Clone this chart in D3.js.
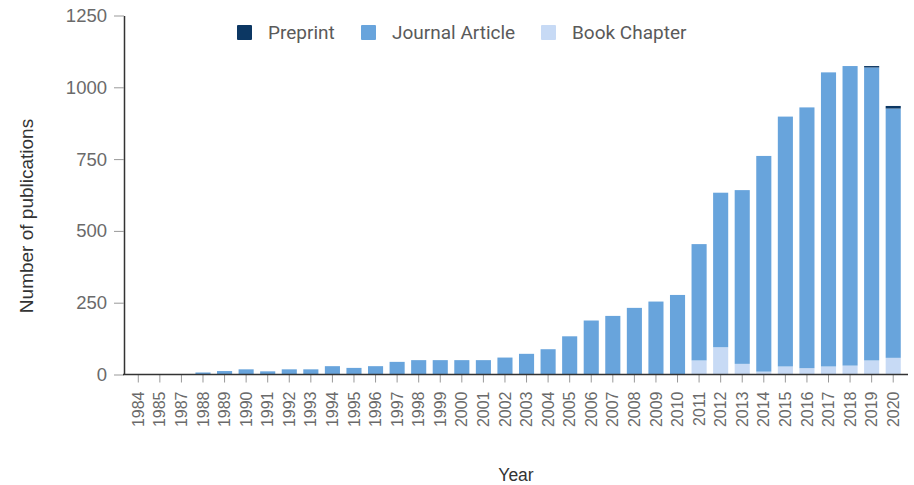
<!DOCTYPE html>
<html>
<head>
<meta charset="utf-8">
<script src="https://cdn.jsdelivr.net/npm/d3@7"></script>
<style>
  body { margin: 0; background: #fff; }
  svg { display: block; font-family: Roboto, "Noto Sans", sans-serif; }
</style>
</head>
<body>
<svg id="chart" width="914" height="485"></svg>
<script>
const years = ["1984", "1985", "1987", "1988", "1989", "1990", "1991", "1992", "1993",
  "1994", "1995", "1996", "1997", "1998", "1999", "2000", "2001", "2002", "2003",
  "2004", "2005", "2006", "2007", "2008", "2009", "2010", "2011", "2012", "2013",
  "2014", "2015", "2016", "2017", "2018", "2019", "2020"];

const bookChapter = [0, 0, 0, 0, 0, 0, 0, 0, 0,
  0, 0, 0, 0, 0, 0, 0, 0, 0, 0,
  0, 0, 0, 0, 0, 0, 0, 49, 95, 37,
  10, 28, 22, 28, 31, 49, 58];

const journalArticle = [0, 0, 1, 7, 12, 18, 11, 18, 18,
  29, 23, 29, 44, 50, 50, 50, 50, 59, 72,
  88, 133, 188, 204, 232, 254, 277, 405, 538, 605,
  751, 870, 908, 1024, 1043, 1020, 868];

const preprint = [0, 0, 0, 0, 0, 0, 0, 0, 0,
  0, 0, 0, 0, 0, 0, 0, 0, 0, 0,
  0, 0, 0, 0, 0, 0, 0, 0, 0, 0,
  0, 0, 0, 0, 0, 5, 9];

const yTicks = [0, 250, 500, 750, 1000, 1250];

const seriesKeys = ["bookChapter", "journalArticle", "preprint"];
const seriesLabels = { preprint: "Preprint", journalArticle: "Journal Article", bookChapter: "Book Chapter" };
const colors = { preprint: "#0c3763", journalArticle: "#68a4dc", bookChapter: "#c7daf5" };

const table = years.map((y, i) => ({
  year: y,
  bookChapter: bookChapter[i],
  journalArticle: journalArticle[i],
  preprint: preprint[i]
}));

const svg = d3.select("#chart");

const x = d3.scaleBand()
  .domain(years)
  .range([127.5, 904])
  .paddingInner(0.3)
  .paddingOuter(0.15);

const y = d3.scaleLinear().domain([0, 1250]).range([374.5, 15.5]);

const stacked = d3.stack().keys(seriesKeys)(table);

// bars
svg.append("g")
  .selectAll("g")
  .data(stacked)
  .enter()
  .append("g")
  .attr("fill", (d) => colors[d.key])
  .selectAll("rect")
  .data((d) => d)
  .enter()
  .append("rect")
  .attr("x", (d) => x(d.data.year))
  .attr("y", (d) => y(d[1]))
  .attr("width", x.bandwidth())
  .attr("height", (d) => y(d[0]) - y(d[1]));

// y axis
const yAxis = svg.append("g")
  .attr("transform", "translate(124,0)")
  .call(d3.axisLeft(y).tickValues(yTicks).tickFormat(d3.format("d"))
    .tickSize(10).tickPadding(7).tickSizeOuter(0));
yAxis.select(".domain").attr("stroke", "#333").attr("stroke-width", 1.5);
yAxis.selectAll(".tick line").attr("stroke", "#999");
yAxis.selectAll("text").style("font-size", "18.5px").attr("fill", "#6a6a6a");

// x axis
const xAxis = svg.append("g")
  .attr("transform", "translate(0,374.5)")
  .call(d3.axisBottom(x).tickSize(8).tickPadding(5));
xAxis.select(".domain").remove();
xAxis.selectAll(".tick line").attr("stroke", "#999");
xAxis.selectAll("text")
  .style("font-size", "16px")
  .attr("fill", "#6a6a6a")
  .attr("transform", "rotate(-90)")
  .attr("text-anchor", "end")
  .attr("x", -17)
  .attr("y", 0)
  .attr("dy", "0.35em");

svg.append("line")
  .attr("x1", 123).attr("x2", 908)
  .attr("y1", 374.5).attr("y2", 374.5)
  .attr("stroke", "#333").attr("stroke-width", 1.5);

// axis titles
svg.append("text")
  .attr("transform", "translate(33,216) rotate(-90)")
  .attr("text-anchor", "middle")
  .style("font-family", "'Liberation Sans', Arial, sans-serif")
  .style("font-size", "19px")
  .attr("fill", "#333")
  .text("Number of publications");

svg.append("text")
  .attr("x", 516)
  .attr("y", 481)
  .attr("text-anchor", "middle")
  .style("font-family", "'Liberation Sans', Arial, sans-serif")
  .style("font-size", "17.5px")
  .attr("fill", "#333")
  .text("Year");

// legend
const legendData = [
  { key: "preprint", x: 237 },
  { key: "journalArticle", x: 361 },
  { key: "bookChapter", x: 541 }
];

const legendItems = svg.append("g")
  .selectAll("g")
  .data(legendData)
  .enter()
  .append("g")
  .attr("transform", (d) => `translate(${d.x},25)`);

legendItems.append("rect")
  .attr("width", 15)
  .attr("height", 15)
  .attr("rx", 1)
  .attr("fill", (d) => colors[d.key]);

legendItems.append("text")
  .attr("x", 31)
  .attr("y", 14)
  .style("font-size", "19px")
  .attr("fill", "#5a5a5a")
  .text((d) => seriesLabels[d.key]);
</script>
</body>
</html>
